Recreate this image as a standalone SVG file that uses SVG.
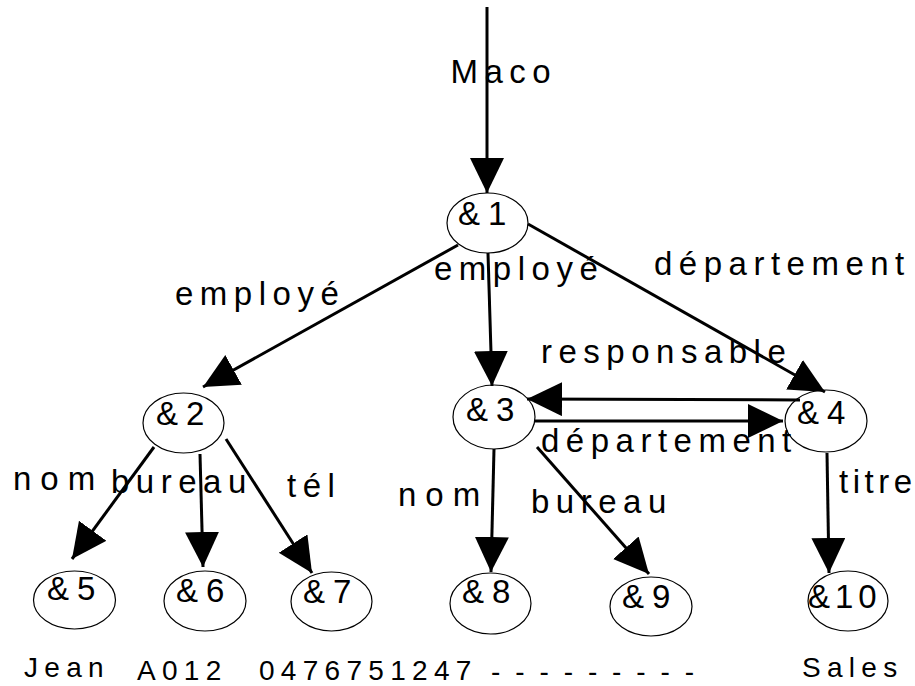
<svg xmlns="http://www.w3.org/2000/svg" width="915" height="686" viewBox="0 0 915 686">
<style>
.nd ellipse{fill:none;stroke:#000;stroke-width:1.2}
.nd text{font-family:"Liberation Sans",Arial,sans-serif;font-size:33px;letter-spacing:8px;fill:#000}
.lbl{font-family:"Liberation Sans",Arial,sans-serif;font-size:33px;letter-spacing:6.5px;fill:#000}
.val{font-family:"Liberation Sans",Arial,sans-serif;font-size:28px;letter-spacing:6.3px;fill:#000}
.edges line{stroke:#000;stroke-width:3;marker-end:url(#ah)}
</style>
<defs>
<marker id="ah" markerUnits="userSpaceOnUse" markerWidth="36" markerHeight="36" refX="35" refY="17" orient="auto" viewBox="0 0 36 36">
<path d="M0,0 L35,17 L0,34 Z" fill="#000"/>
</marker>
</defs>
<rect width="915" height="686" fill="#fff"/>
<g id="n1" class="nd"><ellipse cx="487.5" cy="223" rx="40.5" ry="30"/><text x="458" y="225">&amp;1</text></g>
<g id="n2" class="nd"><ellipse cx="183.5" cy="423" rx="40.5" ry="30"/><text x="156" y="425">&amp;2</text></g>
<g id="n3" class="nd"><ellipse cx="494" cy="417" rx="41" ry="32"/><text x="466" y="421">&amp;3</text></g>
<g id="n4" class="nd"><ellipse cx="826" cy="421" rx="41" ry="31"/><text x="797" y="424">&amp;4</text></g>
<g id="n5" class="nd"><ellipse cx="74.5" cy="600" rx="41" ry="29"/><text x="47" y="600">&amp;5</text></g>
<g id="n6" class="nd"><ellipse cx="205" cy="601" rx="41" ry="30"/><text x="176" y="602">&amp;6</text></g>
<g id="n7" class="nd"><ellipse cx="331.5" cy="601.5" rx="40.5" ry="29.5"/><text x="303" y="603">&amp;7</text></g>
<g id="n8" class="nd"><ellipse cx="490.5" cy="603.5" rx="40.5" ry="30.5"/><text x="462" y="603">&amp;8</text></g>
<g id="n9" class="nd"><ellipse cx="651" cy="606.5" rx="41" ry="29.5"/><text x="622" y="608">&amp;9</text></g>
<g id="n10" class="nd"><ellipse cx="848" cy="601" rx="40" ry="30"/><text x="808" y="608" style="letter-spacing:5px">&amp;10</text></g>
<g id="edges" class="edges">
<line x1="487" y1="7" x2="487" y2="193"/>
<line x1="458" y1="245" x2="203" y2="387"/>
<line x1="488" y1="253" x2="492" y2="386"/>
<line x1="528" y1="224" x2="825" y2="392"/>
<line x1="800" y1="400" x2="527" y2="399"/>
<line x1="535" y1="421" x2="783" y2="421"/>
<line x1="154" y1="447" x2="72" y2="559"/>
<line x1="200" y1="454" x2="203" y2="567"/>
<line x1="226" y1="439" x2="312" y2="573"/>
<line x1="494" y1="449" x2="491" y2="572"/>
<line x1="537" y1="447" x2="649" y2="574"/>
<line x1="827" y1="453" x2="829" y2="573"/>
</g>
<g id="labels">
<text class="lbl" x="450.5" y="83">Maco</text>
<text class="lbl" x="175" y="305">employé</text>
<text class="lbl" x="434" y="280">employé</text>
<text class="lbl" x="654" y="275">département</text>
<text class="lbl" x="541" y="363">responsable</text>
<text class="lbl" x="541" y="452">département</text>
<text class="lbl" x="13" y="490" style="letter-spacing:9px">nom</text>
<text class="lbl" x="111" y="493">bureau</text>
<text class="lbl" x="287" y="497">tél</text>
<text class="lbl" x="398" y="506" style="letter-spacing:9px">nom</text>
<text class="lbl" x="531" y="513">bureau</text>
<text class="lbl" x="839" y="493" style="letter-spacing:4.5px">titre</text>
</g>
<g id="values">
<text class="val" x="24" y="677">Jean</text>
<text class="val" x="137" y="680">A012</text>
<text class="val" x="259" y="680">0476751247</text>
<text class="val" x="491" y="681" style="letter-spacing:14.9px">---------</text>
<text class="val" x="802" y="677">Sales</text>
</g>
</svg>
